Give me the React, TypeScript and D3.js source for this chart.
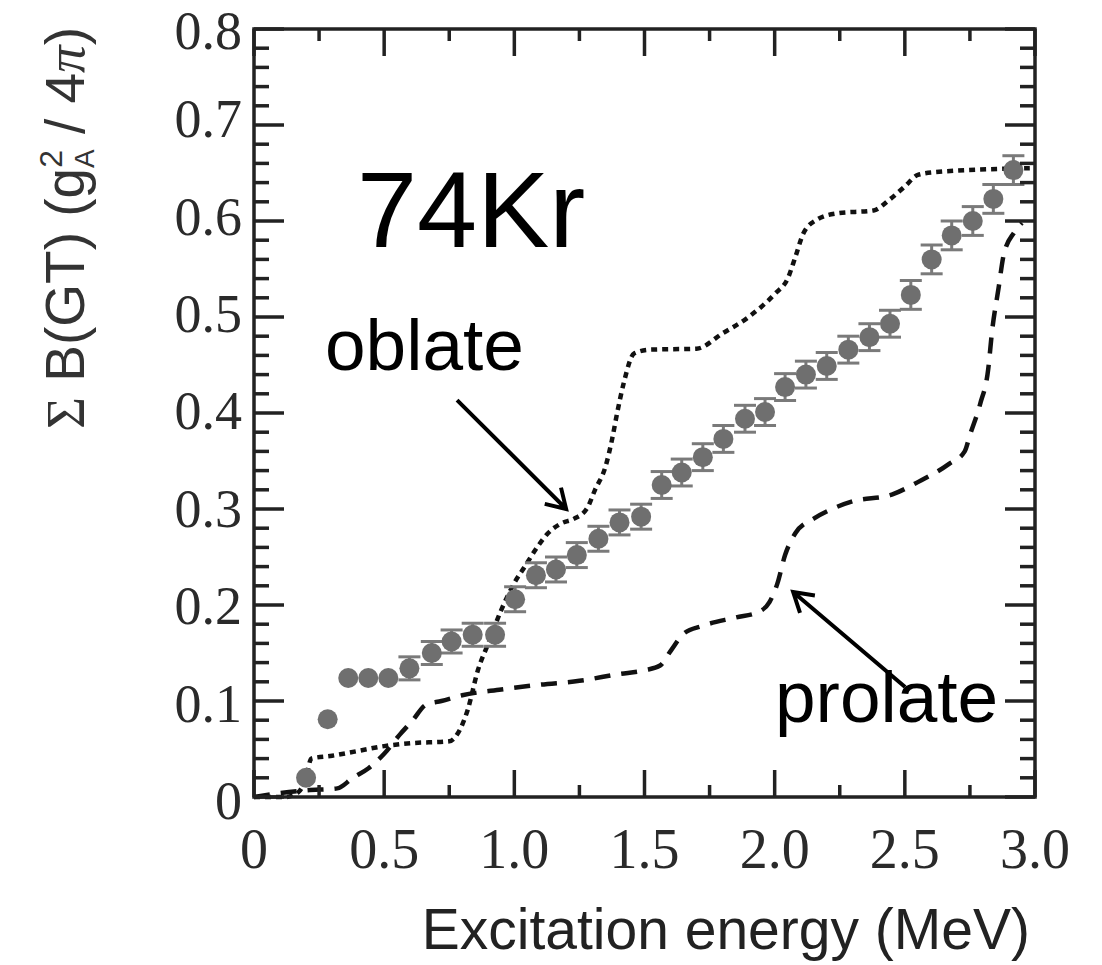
import React, { useEffect, useRef } from "react";
import * as d3 from "d3";

// measured sum of B(GT), 74Kr
const expEnergy = [0.2, 0.283, 0.362, 0.439, 0.516, 0.597, 0.683, 0.759, 0.84, 0.926, 1.003, 1.083, 1.16, 1.24, 1.323, 1.404, 1.487, 1.566, 1.643, 1.724, 1.803, 1.886, 1.963, 2.04, 2.12, 2.2, 2.283, 2.364, 2.443, 2.523, 2.603, 2.68, 2.761, 2.84, 2.917];
const expBGT = [0.02, 0.081, 0.124, 0.124, 0.124, 0.134, 0.15, 0.162, 0.169, 0.169, 0.206, 0.231, 0.237, 0.252, 0.269, 0.286, 0.292, 0.325, 0.338, 0.354, 0.373, 0.394, 0.401, 0.427, 0.44, 0.449, 0.466, 0.479, 0.493, 0.523, 0.56, 0.585, 0.6, 0.623, 0.653];
const expErr = [0, 0, 0, 0, 0, 0.012, 0.012, 0.012, 0.012, 0.012, 0.013, 0.013, 0.013, 0.013, 0.013, 0.013, 0.013, 0.014, 0.014, 0.014, 0.014, 0.014, 0.014, 0.014, 0.014, 0.014, 0.014, 0.014, 0.014, 0.015, 0.015, 0.015, 0.015, 0.015, 0.015];

// oblate calculation (dotted)
const oblateE = [0, 0.12, 0.17, 0.2, 0.22, 0.3, 0.4, 0.5, 0.6, 0.75, 0.78, 0.82, 0.86, 0.9, 0.95, 1.0, 1.04, 1.09, 1.13, 1.18, 1.23, 1.28, 1.31, 1.35, 1.375, 1.395, 1.42, 1.46, 1.52, 1.7, 1.8, 1.9, 2.0, 2.05, 2.08, 2.11, 2.16, 2.24, 2.38, 2.44, 2.5, 2.55, 2.62, 2.98];
const oblateB = [0, 0, 0.005, 0.02, 0.04, 0.043, 0.048, 0.053, 0.056, 0.058, 0.065, 0.09, 0.132, 0.16, 0.195, 0.223, 0.24, 0.261, 0.275, 0.285, 0.29, 0.301, 0.32, 0.344, 0.372, 0.4, 0.431, 0.462, 0.466, 0.467, 0.483, 0.5, 0.524, 0.54, 0.563, 0.587, 0.601, 0.608, 0.611, 0.622, 0.636, 0.648, 0.651, 0.655];

// prolate calculation (dashed)
const prolateE = [0, 0.1, 0.2, 0.32, 0.38, 0.44, 0.5, 0.56, 0.61, 0.66, 0.72, 0.8, 0.95, 1.1, 1.25, 1.4, 1.5, 1.56, 1.6, 1.65, 1.72, 1.85, 1.94, 1.98, 2.01, 2.04, 2.08, 2.15, 2.22, 2.3, 2.45, 2.55, 2.67, 2.73, 2.75, 2.79, 2.82, 2.835, 2.86, 2.88, 2.92, 2.95];
const prolateB = [0, 0.004, 0.007, 0.009, 0.02, 0.03, 0.045, 0.065, 0.08, 0.096, 0.1, 0.106, 0.112, 0.117, 0.121, 0.128, 0.132, 0.137, 0.152, 0.17, 0.178, 0.187, 0.193, 0.203, 0.222, 0.252, 0.275, 0.29, 0.3, 0.308, 0.315, 0.328, 0.347, 0.36, 0.377, 0.41, 0.445, 0.485, 0.53, 0.565, 0.588, 0.598];

const xTicks = [0, 0.5, 1.0, 1.5, 2.0, 2.5, 3.0];
const xTickLabels = ["0", "0.5", "1.0", "1.5", "2.0", "2.5", "3.0"];
const yTicks = [0, 0.1, 0.2, 0.3, 0.4, 0.5, 0.6, 0.7, 0.8];
const yTickLabels = ["0", "0.1", "0.2", "0.3", "0.4", "0.5", "0.6", "0.7", "0.8"];

const W = 1102;
const H = 965;
const plot = { left: 254, right: 1035, top: 29, bottom: 797 };

export default function App() {
  const svgRef = useRef<SVGSVGElement>(null);

  useEffect(() => {
    const svg = d3.select(svgRef.current);
    svg.selectAll("*").remove();

    const x = d3.scaleLinear().domain([0, 3]).range([plot.left, plot.right]);
    const y = d3.scaleLinear().domain([0, 0.8]).range([plot.bottom, plot.top]);
    const axisColor = "#222";

    // calculated curves
    const lineGen = d3
      .line<[number, number]>()
      .x((d) => x(d[0]))
      .y((d) => y(d[1]))
      .curve(d3.curveMonotoneX);

    svg
      .append("path")
      .attr("d", lineGen(oblateE.map((e, i) => [e, oblateB[i]]) as [number, number][]))
      .attr("fill", "none")
      .attr("stroke", "#111")
      .attr("stroke-width", 4.5)
      .attr("stroke-dasharray", "6 5");

    svg
      .append("path")
      .attr("d", lineGen(prolateE.map((e, i) => [e, prolateB[i]]) as [number, number][]))
      .attr("fill", "none")
      .attr("stroke", "#111")
      .attr("stroke-width", 4.5)
      .attr("stroke-dasharray", "16 11");

    // data with error bars
    const pts = expEnergy.map((e, i) => ({ e, b: expBGT[i], err: expErr[i] }));
    const bars = svg.append("g").attr("stroke", "#7a7a7a").attr("stroke-width", 3);
    pts
      .filter((d) => d.err > 0)
      .forEach((d) => {
        const cx = x(d.e);
        bars.append("line").attr("x1", cx).attr("x2", cx).attr("y1", y(d.b - d.err)).attr("y2", y(d.b + d.err));
        [d.b - d.err, d.b + d.err].forEach((v) => {
          bars.append("line").attr("x1", cx - 11).attr("x2", cx + 11).attr("y1", y(v)).attr("y2", y(v));
        });
      });

    svg
      .append("g")
      .selectAll("circle")
      .data(pts)
      .enter()
      .append("circle")
      .attr("cx", (d) => x(d.e))
      .attr("cy", (d) => y(d.b))
      .attr("r", 10)
      .attr("fill", "#6f6f6f");

    // frame
    svg
      .append("rect")
      .attr("x", plot.left)
      .attr("y", plot.top)
      .attr("width", plot.right - plot.left)
      .attr("height", plot.bottom - plot.top)
      .attr("fill", "none")
      .attr("stroke", axisColor)
      .attr("stroke-width", 3.5);

    const ticks = svg.append("g").attr("stroke", axisColor).attr("stroke-width", 3.5);
    d3.range(0, 13).forEach((i) => {
      const t = i * 0.25;
      const len = i % 2 === 0 ? 27 : 12;
      ticks.append("line").attr("x1", x(t)).attr("x2", x(t)).attr("y1", plot.bottom).attr("y2", plot.bottom - len);
      ticks.append("line").attr("x1", x(t)).attr("x2", x(t)).attr("y1", plot.top).attr("y2", plot.top + len);
    });
    d3.range(0, 41).forEach((i) => {
      const v = i * 0.02;
      const len = i % 5 === 0 ? 30 : 15;
      ticks.append("line").attr("x1", plot.left).attr("x2", plot.left + len).attr("y1", y(v)).attr("y2", y(v));
      ticks.append("line").attr("x1", plot.right).attr("x2", plot.right - len).attr("y1", y(v)).attr("y2", y(v));
    });

    // tick labels
    const tickFont = "'Liberation Serif', 'Times New Roman', serif";
    svg
      .append("g")
      .selectAll("text")
      .data(xTicks)
      .enter()
      .append("text")
      .attr("x", (d) => x(d))
      .attr("y", 868)
      .attr("text-anchor", "middle")
      .attr("font-family", tickFont)
      .attr("font-size", 56)
      .attr("fill", "#2a2a2a")
      .text((d, i) => xTickLabels[i]);

    svg
      .append("g")
      .selectAll("text")
      .data(yTicks)
      .enter()
      .append("text")
      .attr("x", 242)
      .attr("y", (d) => Math.max(y(d) + 22 - d * 14, 49))
      .attr("text-anchor", "end")
      .attr("font-family", tickFont)
      .attr("font-size", 54)
      .attr("fill", "#2a2a2a")
      .text((d, i) => yTickLabels[i]);

    // axis titles
    const sans = "'Liberation Sans', Arial, sans-serif";
    svg
      .append("text")
      .attr("x", 1030)
      .attr("y", 949)
      .attr("text-anchor", "end")
      .attr("font-family", sans)
      .attr("font-size", 57)
      .attr("fill", "#222")
      .text("Excitation energy (MeV)");

    const yt = svg
      .append("text")
      .attr("transform", "translate(84,228) rotate(-90)")
      .attr("text-anchor", "middle")
      .attr("font-family", sans)
      .attr("font-size", 55)
      .attr("fill", "#333");
    yt.append("tspan").attr("font-family", tickFont).text("Σ");
    yt.append("tspan").text(" B(GT) (g");
    yt.append("tspan").attr("font-size", 32).attr("dy", -22).text("2");
    yt.append("tspan").attr("font-size", 28).attr("dx", -18).attr("dy", 32).text("A");
    yt.append("tspan").attr("dy", -10).text(" / 4");
    yt.append("tspan").attr("font-family", tickFont).attr("font-style", "italic").text("π");
    yt.append("tspan").text(")");

    // annotations
    svg
      .append("text")
      .attr("x", 357)
      .attr("y", 247)
      .attr("font-family", sans)
      .attr("font-size", 108)
      .attr("fill", "#000")
      .text("74Kr");
    svg
      .append("text")
      .attr("x", 325)
      .attr("y", 370)
      .attr("font-family", sans)
      .attr("font-size", 73)
      .attr("fill", "#000")
      .text("oblate");
    svg
      .append("text")
      .attr("x", 775)
      .attr("y", 722)
      .attr("font-family", sans)
      .attr("font-size", 73)
      .attr("fill", "#000")
      .text("prolate");

    const arrow = (e0: number, b0: number, e1: number, b1: number) => {
      const x0 = x(e0), y0 = y(b0), x1 = x(e1), y1 = y(b1);
      const ang = Math.atan2(y1 - y0, x1 - x0);
      const hl = 22, ha = 0.55;
      const p = d3.path();
      p.moveTo(x0, y0);
      p.lineTo(x1, y1);
      p.moveTo(x1 - hl * Math.cos(ang - ha), y1 - hl * Math.sin(ang - ha));
      p.lineTo(x1, y1);
      p.lineTo(x1 - hl * Math.cos(ang + ha), y1 - hl * Math.sin(ang + ha));
      svg
        .append("path")
        .attr("d", p.toString())
        .attr("fill", "none")
        .attr("stroke", "#000")
        .attr("stroke-width", 4);
    };
    arrow(0.78, 0.4135, 1.199, 0.3);
    arrow(2.501, 0.1146, 2.071, 0.2135);
  }, []);

  return (
    <svg
      ref={svgRef}
      width={W}
      height={H}
      style={{ position: "absolute", left: 0, top: 0, background: "#fff" }}
    ></svg>
  );
}
